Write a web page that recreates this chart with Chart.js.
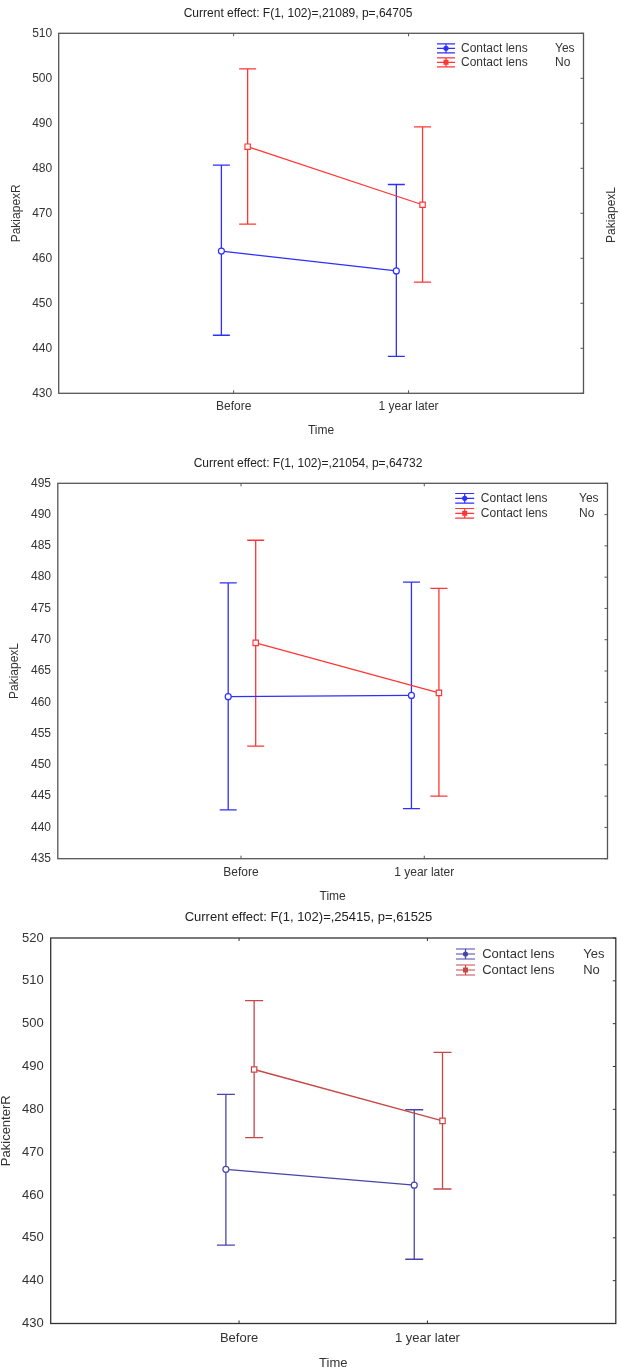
<!DOCTYPE html>
<html>
<head>
<meta charset="utf-8">
<script src="https://cdn.jsdelivr.net/npm/chart.js@4"></script>
<style>
  body { margin: 0; width: 621px; height: 1371px; overflow: hidden; background: #fff; position: relative; }
  .panel { position: absolute; left: 0; width: 621px; }
  #cutLabel {
    position: absolute; left: 611px; top: 215px;
    transform: translate(-50%, -50%) rotate(-90deg);
    font: 12px "Liberation Sans", Arial, sans-serif; color: #333; white-space: nowrap;
  }
</style>
</head>
<body>
<div class="panel" style="top:0;height:445px"><canvas id="apexRChart"></canvas></div>
<div class="panel" style="top:450px;height:455px"><canvas id="apexLChart"></canvas></div>
<div class="panel" style="top:905px;height:466px"><canvas id="centerRChart"></canvas></div>
<div id="cutLabel">PakiapexL</div>
<script>
const timeLabels = ["Before", "1 year later"];
const groupNames = ["Yes", "No"];
const factorName = "Contact lens";

// PakiapexR
const apexRYes = [461.6, 457.2];
const apexRYesLow = [442.9, 438.2];
const apexRYesHigh = [480.7, 476.4];
const apexRNo = [484.8, 471.9];
const apexRNoLow = [467.6, 454.7];
const apexRNoHigh = [502.1, 489.2];
const apexRTicks = [430, 440, 450, 460, 470, 480, 490, 500, 510];

// PakiapexL
const apexLYes = [460.9, 461.1];
const apexLYesLow = [442.8, 443.0];
const apexLYesHigh = [479.1, 479.2];
const apexLNo = [469.5, 461.5];
const apexLNoLow = [453.0, 445.0];
const apexLNoHigh = [485.9, 478.2];
const apexLTicks = [435, 440, 445, 450, 455, 460, 465, 470, 475, 480, 485, 490, 495];

// PakicenterR
const centerRYes = [466.0, 462.3];
const centerRYesLow = [448.3, 445.0];
const centerRYesHigh = [483.5, 479.9];
const centerRNo = [489.3, 477.3];
const centerRNoLow = [473.4, 461.4];
const centerRNoHigh = [505.4, 493.3];
const centerRTicks = [430, 440, 450, 460, 470, 480, 490, 500, 510, 520];

const FONT = '"Liberation Sans", Arial, sans-serif';
const TEXT = "#333";

// draws the error bars under the points
const errorBarPlugin = {
  id: "errorBars",
  beforeDatasetsDraw(chart, args, opts) {
    const { ctx, scales: { x, y } } = chart;
    chart.data.datasets.forEach((ds) => {
      ctx.save();
      ctx.strokeStyle = ds.borderColor;
      ctx.lineWidth = opts.lineWidth;
      ds.data.forEach((pt, i) => {
        const px = x.getPixelForValue(pt.x);
        const top = y.getPixelForValue(ds.highs[i]);
        const bot = y.getPixelForValue(ds.lows[i]);
        ctx.beginPath();
        ctx.moveTo(px, top); ctx.lineTo(px, bot);
        ctx.moveTo(px - opts.cap, top); ctx.lineTo(px + opts.cap, top);
        ctx.moveTo(px - opts.cap, bot); ctx.lineTo(px + opts.cap, bot);
        ctx.stroke();
      });
      ctx.restore();
    });
  },
};

// box, inward ticks, title and the legend
const framePlugin = {
  id: "frame",
  afterDraw(chart, args, opts) {
    const { ctx, chartArea: a, scales: { x, y } } = chart;
    ctx.save();
    ctx.strokeStyle = opts.borderColor;
    ctx.lineWidth = 1.3;
    ctx.strokeRect(a.left, a.top, a.right - a.left, a.bottom - a.top);
    ctx.lineWidth = 1;
    ctx.beginPath();
    y.ticks.forEach((t) => {
      const py = y.getPixelForValue(t.value);
      ctx.moveTo(a.right, py); ctx.lineTo(a.right - 3, py);
    });
    x.ticks.forEach((t) => {
      const px = x.getPixelForValue(t.value);
      ctx.moveTo(px, a.top); ctx.lineTo(px, a.top + 3);
      ctx.moveTo(px, a.bottom); ctx.lineTo(px, a.bottom - 3);
    });
    ctx.stroke();

    ctx.fillStyle = "#222";
    ctx.font = opts.fontSize + "px " + FONT;
    ctx.textAlign = "center";
    ctx.textBaseline = "middle";
    ctx.fillText(opts.title, opts.titleX, opts.titleY);

    const lg = opts.legend;
    chart.data.datasets.forEach((ds, i) => {
      const cx = a.right + lg.symX;
      const cy = a.top + lg.rows[i];
      ctx.strokeStyle = ds.borderColor;
      ctx.lineWidth = 1.2;
      ctx.beginPath();
      ctx.moveTo(cx - lg.half, cy - lg.capH); ctx.lineTo(cx + lg.half, cy - lg.capH);
      ctx.moveTo(cx - lg.half, cy + lg.capH); ctx.lineTo(cx + lg.half, cy + lg.capH);
      ctx.moveTo(cx - lg.half, cy); ctx.lineTo(cx + lg.half, cy);
      ctx.moveTo(cx, cy - lg.capH); ctx.lineTo(cx, cy + lg.capH);
      ctx.stroke();
      ctx.fillStyle = ds.borderColor;
      ctx.beginPath();
      if (ds.pointStyle === "rect") ctx.rect(cx - 2.5, cy - 2.5, 5, 5);
      else ctx.arc(cx, cy, 2.6, 0, Math.PI * 2);
      ctx.fill();
      ctx.fillStyle = TEXT;
      ctx.textAlign = "left";
      ctx.fillText(factorName, a.right + lg.textX, cy);
      ctx.fillText(groupNames[i], a.right + lg.valX, cy);
    });
    ctx.restore();
  },
};

function groupDataset(label, means, lows, highs, color, style, shift) {
  return {
    label: label,
    data: means.map((v, i) => ({ x: i + 1 + shift, y: v })),
    lows: lows,
    highs: highs,
    borderColor: color,
    borderWidth: 1.3,
    backgroundColor: "#fff",
    pointStyle: style,
    pointRadius: style === "rect" ? 3.8 : 3,
    pointBorderWidth: 1.2,
    pointBackgroundColor: "#fff",
    tension: 0,
  };
}

function drawPanel(canvasId, yTitle, yTicks, yes, no, p) {
  const ctx = document.querySelector(canvasId);
  return new Chart(ctx, {
    type: "line",
    data: {
      datasets: [
        groupDataset(groupNames[0], yes[0], yes[1], yes[2], p.colors[0], "circle", -0.07),
        groupDataset(groupNames[1], no[0], no[1], no[2], p.colors[1], "rect", 0.08),
      ],
    },
    options: {
      responsive: true,
      maintainAspectRatio: false,
      animation: false,
      layout: { padding: { top: p.padTop, right: p.padRight, left: 0, bottom: 0 } },
      plugins: {
        legend: { display: false },
        tooltip: { enabled: false },
        errorBars: { lineWidth: 1.3, cap: p.cap },
        frame: {
          borderColor: p.borderColor,
          fontSize: p.fs,
          title: p.title,
          titleX: p.titleX,
          titleY: p.titleY,
          legend: p.legend,
        },
      },
      scales: {
        x: {
          type: "linear",
          min: 0,
          max: timeLabels.length + 1,
          afterBuildTicks: (s) => {
            s.ticks = timeLabels.map((_, i) => ({ value: i + 1 }));
          },
          afterFit: (s) => { s.height = p.xHeight; },
          grid: { display: false, drawTicks: false },
          border: { display: false },
          ticks: {
            padding: p.labelPad,
            maxRotation: 0,
            color: TEXT,
            font: { family: FONT, size: p.fs },
            callback: (v) => timeLabels[Math.round(v) - 1] || "",
          },
          title: {
            display: true,
            text: "Time",
            color: TEXT,
            font: { family: FONT, size: p.fs },
            padding: { top: 0, bottom: p.xTitlePad },
          },
        },
        y: {
          min: yTicks[0],
          max: yTicks[yTicks.length - 1],
          afterBuildTicks: (s) => {
            s.ticks = yTicks.map((v) => ({ value: v }));
          },
          afterFit: (s) => { s.width = p.yWidth; },
          grid: { display: false, drawTicks: false },
          border: { display: false },
          ticks: {
            padding: p.labelPad,
            color: TEXT,
            font: { family: FONT, size: p.fs },
          },
          title: {
            display: true,
            text: yTitle,
            color: TEXT,
            font: { family: FONT, size: p.fs },
            padding: { top: p.yTitlePad, bottom: 0 },
          },
        },
      },
    },
    plugins: [errorBarPlugin, framePlugin],
  });
}

drawPanel("#apexRChart", "PakiapexR", apexRTicks,
  [apexRYes, apexRYesLow, apexRYesHigh], [apexRNo, apexRNoLow, apexRNoHigh], {
    fs: 12, padTop: 33.3, padRight: 37.5, yWidth: 58.7, yTitlePad: 9.5,
    xHeight: 51.7, xTitlePad: 6.8, labelPad: 6.5, cap: 8.5,
    colors: ["#2f2fff", "#ff3636"], borderColor: "#555",
    title: "Current effect: F(1, 102)=,21089, p=,64705", titleX: 298, titleY: 14,
    legend: { symX: -137.5, textX: -122.5, valX: -28.5, rows: [15, 29], half: 9, capH: 4.5 },
  });

drawPanel("#apexLChart", "PakiapexL", apexLTicks,
  [apexLYes, apexLYesLow, apexLYesHigh], [apexLNo, apexLNoLow, apexLNoHigh], {
    fs: 12, padTop: 33.3, padRight: 13.5, yWidth: 57.8, yTitlePad: 7.5,
    xHeight: 46.3, xTitlePad: 0.8, labelPad: 6.8, cap: 8.5,
    colors: ["#2f2fff", "#ff3636"], borderColor: "#555",
    title: "Current effect: F(1, 102)=,21054, p=,64732", titleX: 308, titleY: 13.3,
    legend: { symX: -142.8, textX: -126.7, valX: -28.5, rows: [15, 30], half: 9.5, capH: 4.8 },
  });

drawPanel("#centerRChart", "PakicenterR", centerRTicks,
  [centerRYes, centerRYesLow, centerRYesHigh], [centerRNo, centerRNoLow, centerRNoHigh], {
    fs: 13, padTop: 33, padRight: 5, yWidth: 50.7, yTitlePad: -1.8,
    xHeight: 47.5, xTitlePad: -0.5, labelPad: 7, cap: 9,
    colors: ["#4646aa", "#c94646"], borderColor: "#333",
    title: "Current effect: F(1, 102)=,25415, p=,61525", titleX: 308.5, titleY: 12.7,
    legend: { symX: -150.3, textX: -133.6, valX: -32.6, rows: [16, 32], half: 9.5, capH: 5 },
  });
</script>
</body>
</html>
